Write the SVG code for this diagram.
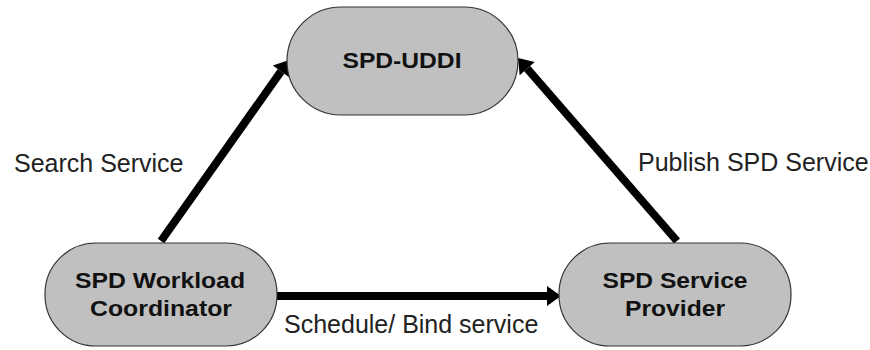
<svg xmlns="http://www.w3.org/2000/svg" width="870" height="350" viewBox="0 0 870 350">
<style>
.node{fill:#c0c0c0;stroke:#333;stroke-width:1.2}
.nt{font-family:"Liberation Sans",Arial,sans-serif;font-weight:bold;font-size:22px;fill:#111;text-anchor:middle}
.lt{font-family:"Liberation Sans",Arial,sans-serif;font-size:25px;fill:#222}
.edge{stroke:#000;stroke-width:8;fill:none;marker-end:url(#ah)}
</style>
<defs>
<marker id="ah" markerWidth="2" markerHeight="3" refX="0" refY="1.25" orient="auto" markerUnits="strokeWidth" overflow="visible">
<path d="M0,0 L1.75,1.25 L0,2.5 z" fill="#000"/>
</marker>
</defs>
<rect width="870" height="350" fill="#fff"/>
<g id="connectors">
<line class="edge" x1="161" y1="241" x2="281" y2="71.4"/>
<line class="edge" x1="677" y1="241" x2="527.2" y2="68.6"/>
<line class="edge" x1="277" y1="296" x2="547" y2="296"/>
</g>
<g id="uddi">
<rect class="node" x="287" y="7" width="231" height="108" rx="54"/>
<text class="nt" x="402" y="68" textLength="119" lengthAdjust="spacingAndGlyphs">SPD-UDDI</text>
</g>
<g id="coordinator">
<rect class="node" x="45" y="243" width="232" height="103" rx="51"/>
<text class="nt" x="160" y="288" textLength="170" lengthAdjust="spacingAndGlyphs">SPD Workload</text>
<text class="nt" x="161" y="316" textLength="142" lengthAdjust="spacingAndGlyphs">Coordinator</text>
</g>
<g id="provider">
<rect class="node" x="559" y="243" width="232" height="103" rx="51"/>
<text class="nt" x="675" y="288" textLength="145" lengthAdjust="spacingAndGlyphs">SPD Service</text>
<text class="nt" x="675" y="316" textLength="100" lengthAdjust="spacingAndGlyphs">Provider</text>
</g>
<g id="labels">
<text class="lt" x="14" y="172">Search Service</text>
<text class="lt" x="638" y="171">Publish SPD Service</text>
<text class="lt" x="284" y="333">Schedule/ Bind service</text>
</g>
</svg>
